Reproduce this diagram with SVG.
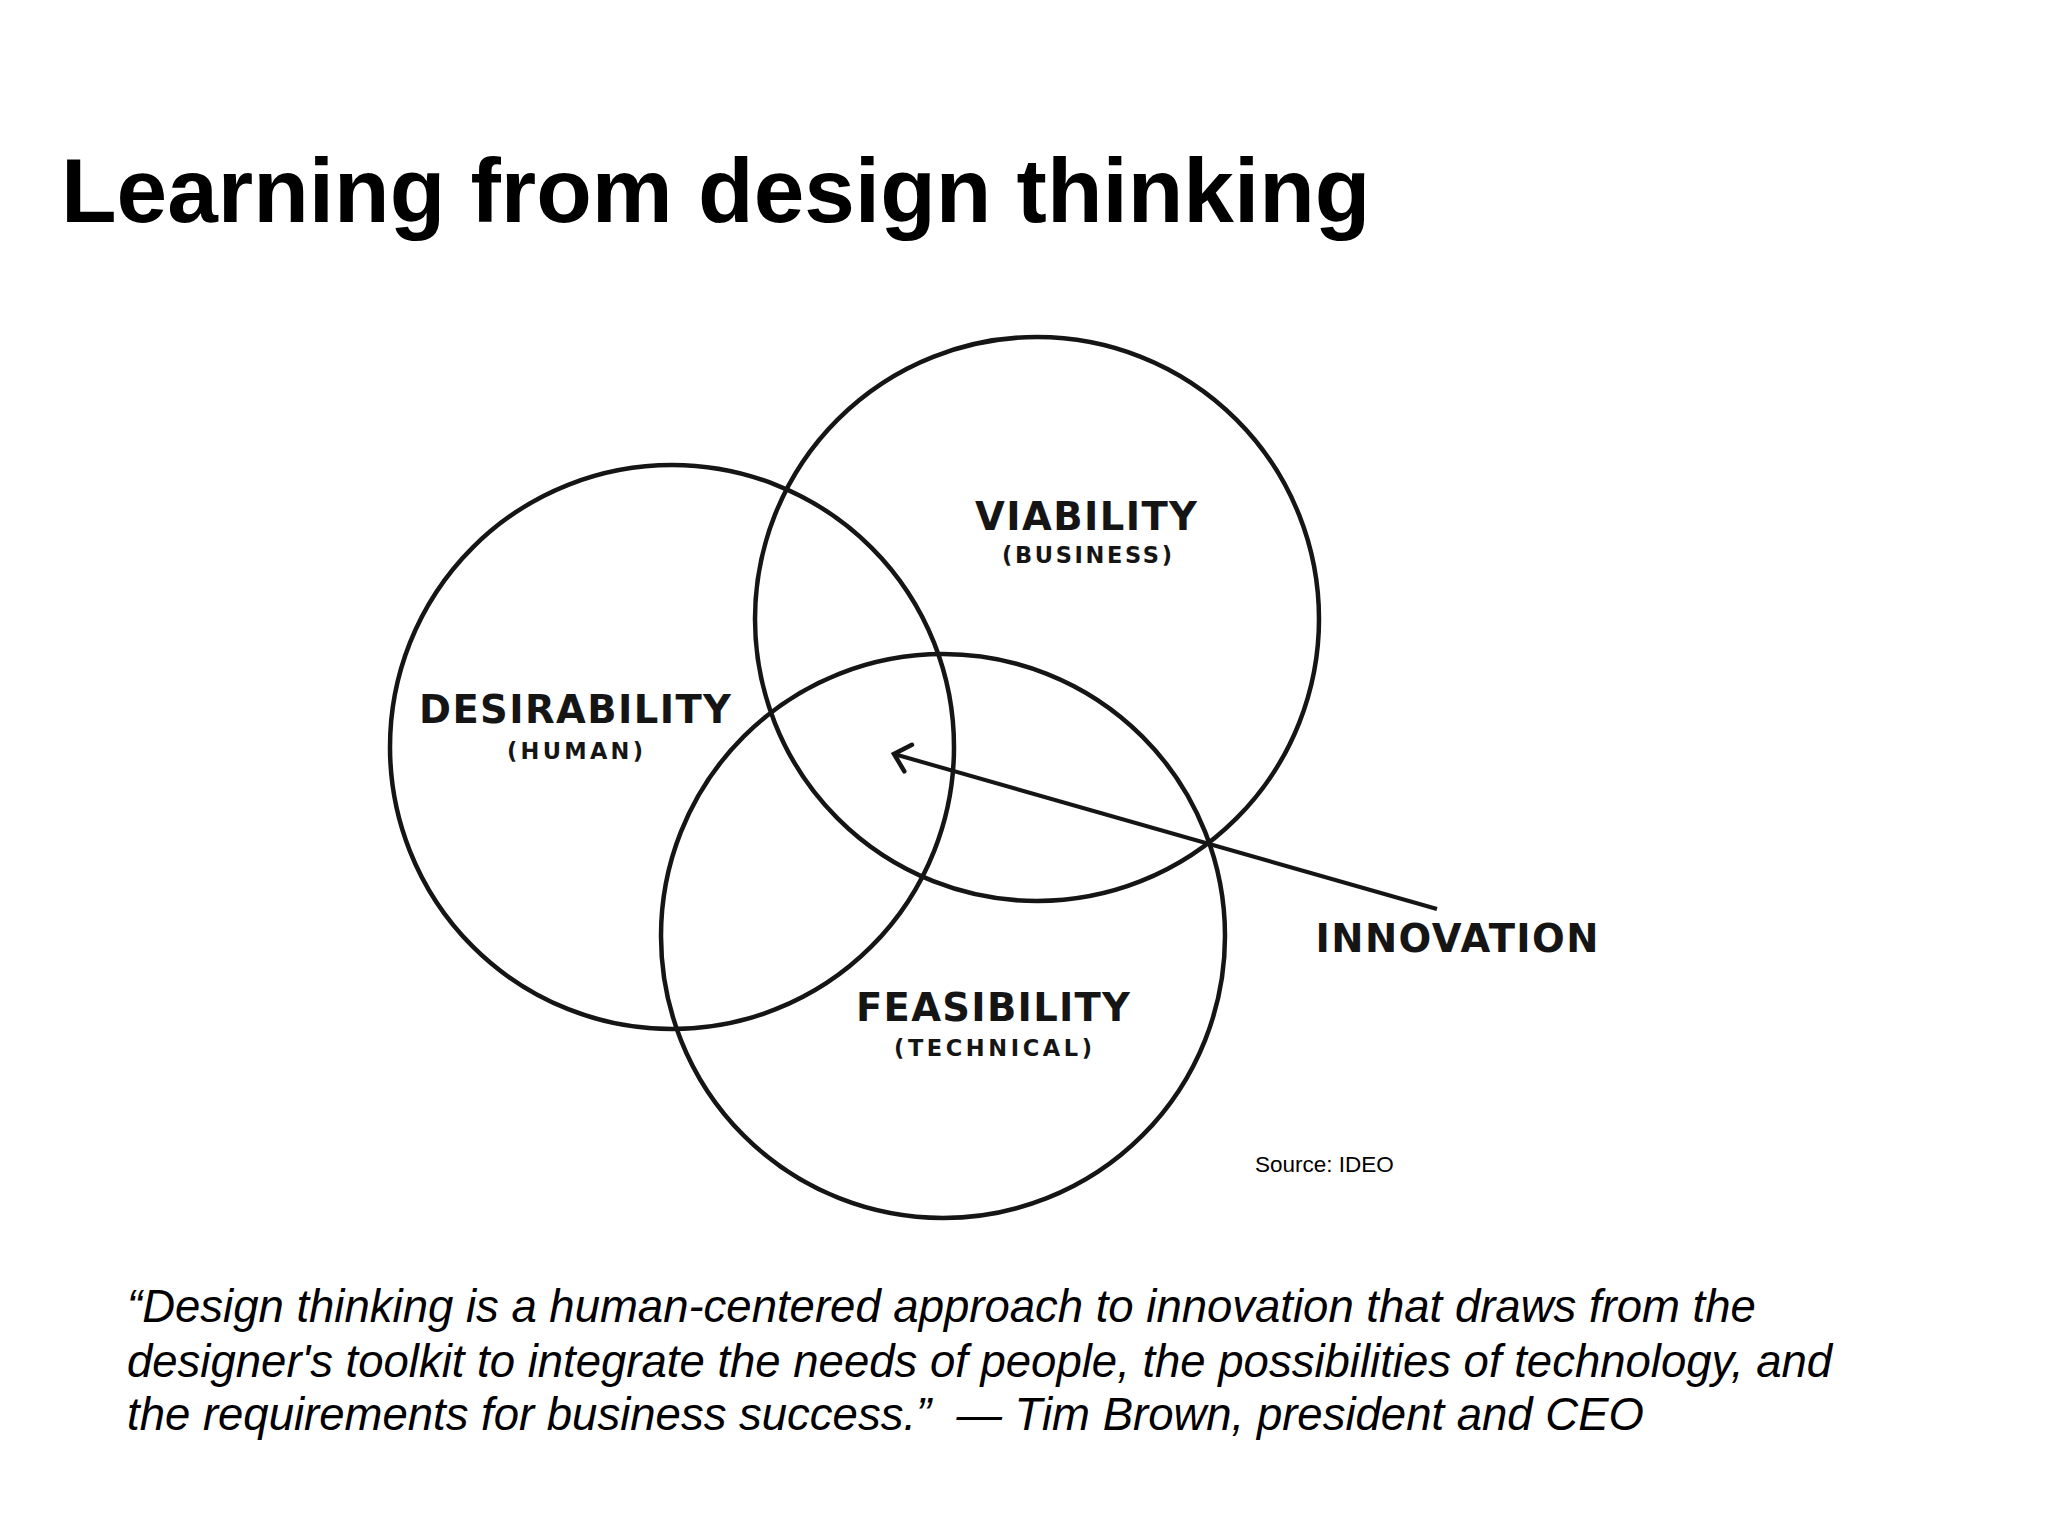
<svg xmlns="http://www.w3.org/2000/svg" width="2048" height="1536" viewBox="0 0 2048 1536">
<style>
.circle{fill:none;stroke:#151515;stroke-width:4.5}
.lbl{font-family:"DejaVu Sans","Noto Sans",sans-serif;fill:#151515;text-anchor:middle;font-weight:bold}
.big{font-size:38.5px}
.small{font-size:22.5px}
.title{font-family:"Liberation Sans",Arial,sans-serif;font-weight:bold;font-size:91px;fill:#000}
.quote{font-family:"Liberation Sans",Arial,sans-serif;font-style:italic;font-size:45.5px;fill:#000;white-space:pre}
.src{font-family:"Liberation Sans",Arial,sans-serif;font-size:22.5px;fill:#000}
.conn{fill:none;stroke:#151515;stroke-width:4}
</style>
<defs>
<marker id="chev" markerUnits="userSpaceOnUse" viewBox="-20 -20 24 40" markerWidth="24" markerHeight="40" refX="0" refY="0" orient="auto">
<path d="M -14.7 -13.8 L 0 0 L -14.7 13.8" fill="none" stroke="#151515" stroke-width="4.5" stroke-linecap="round" stroke-linejoin="miter"/>
</marker>
</defs>
<rect width="2048" height="1536" fill="#fff"/>
<text class="title" x="61" y="222">Learning from design thinking</text>
<g id="desirability">
<circle class="circle" cx="672" cy="747" r="282"/>
<text class="lbl big" x="575" y="723" textLength="312" lengthAdjust="spacing">DESIRABILITY</text>
<text class="lbl small" x="575" y="759" textLength="136" lengthAdjust="spacing">(HUMAN)</text>
</g>
<g id="viability">
<circle class="circle" cx="1037" cy="619" r="282"/>
<text class="lbl big" x="1086" y="530" textLength="222" lengthAdjust="spacing">VIABILITY</text>
<text class="lbl small" x="1087" y="563" textLength="170" lengthAdjust="spacing">(BUSINESS)</text>
</g>
<g id="feasibility">
<circle class="circle" cx="943" cy="936" r="282"/>
<text class="lbl big" x="993" y="1021" textLength="274" lengthAdjust="spacing">FEASIBILITY</text>
<text class="lbl small" x="993" y="1056" textLength="198" lengthAdjust="spacing">(TECHNICAL)</text>
</g>
<g id="innovation">
<text class="lbl big" x="1457" y="952" textLength="283" lengthAdjust="spacing">INNOVATION</text>
</g>
<g id="connectors">
<line class="conn" x1="1437" y1="909" x2="894" y2="754" marker-end="url(#chev)"/>
</g>
<text class="src" x="1255" y="1172">Source: IDEO</text>
<text class="quote" x="127" y="1322">“Design thinking is a human-centered approach to innovation that draws from the</text>
<text class="quote" x="127" y="1377">designer's toolkit to integrate the needs of people, the possibilities of technology, and</text>
<text class="quote" x="127" y="1430">the requirements for business success.”  — Tim Brown, president and CEO</text>
</svg>
